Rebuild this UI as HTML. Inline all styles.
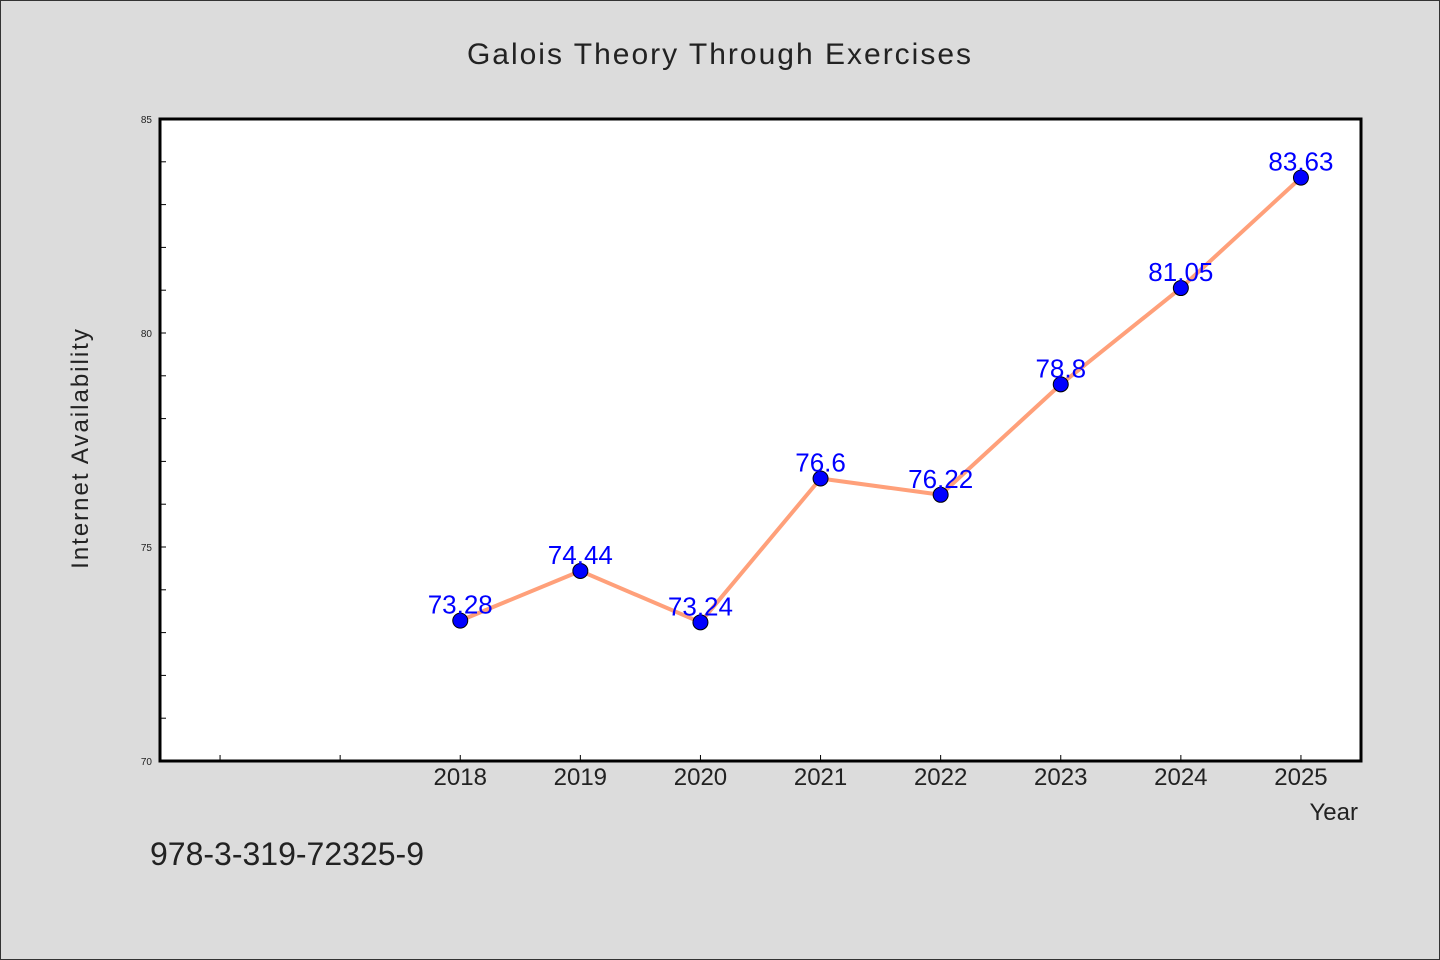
<!DOCTYPE html>
<html><head><meta charset="utf-8"><style>
html,body{margin:0;padding:0;background:#dcdcdc;}
svg{display:block;font-family:"WenQuanYi Zen Hei","Liberation Sans",sans-serif;}
</style></head><body>
<svg id="chart" width="1440" height="960">
<rect x="0.5" y="0.5" width="1439" height="959" fill="#dcdcdc" stroke="#333"/>
<text x="720" y="64" text-anchor="middle" font-size="30" fill="#222" letter-spacing="2">Galois Theory Through Exercises</text>
<rect x="160" y="119" width="1201" height="642" fill="#fff"/>
<g id="axes"></g>
<g id="marks"></g>
<rect x="160" y="119" width="1201" height="642" fill="none" stroke="#000" stroke-width="3"/>
<text x="88" y="448" text-anchor="middle" font-size="24" fill="#222" letter-spacing="2" transform="rotate(-90 88 448)">Internet Availability</text>
<text x="1358" y="820" text-anchor="end" font-size="24" fill="#222">Year</text>
<text x="150" y="865" font-size="32" fill="#222">978-3-319-72325-9</text>
</svg>
<script>
const years = [2018, 2019, 2020, 2021, 2022, 2023, 2024, 2025];
const values = [73.28, 74.44, 73.24, 76.6, 76.22, 78.8, 81.05, 83.63];
const valueLabels = ["73.28", "74.44", "73.24", "76.6", "76.22", "78.8", "81.05", "83.63"];
const yTicks = [70, 75, 80, 85];
const xMinorTicks = [2016, 2017];
const NS = "http://www.w3.org/2000/svg";
const X0 = 160, X1 = 1361, Y0 = 761, Y1 = 119;
const xDom = [2015.5, 2025.5], yDom = [70, 85];
const xs = v => X0 + (v - xDom[0]) / (xDom[1] - xDom[0]) * (X1 - X0);
const ys = v => Y0 - (v - yDom[0]) / (yDom[1] - yDom[0]) * (Y0 - Y1);
function mk(tag, attrs, parent){const e=document.createElementNS(NS,tag);for(const k in attrs)e.setAttribute(k,attrs[k]);parent.appendChild(e);return e;}
const axes = document.getElementById('axes'), marks = document.getElementById('marks');
for (let v = yDom[0]; v <= yDom[1]; v++) {
  const t = mk('line', {x1:X0, x2:X0+6, y1:ys(v), y2:ys(v), stroke:'#000', 'stroke-width':1}, axes);
  
  
}
yTicks.forEach(v => {
  const t = mk('text', {x:152, y:ys(v)+4, 'text-anchor':'end', 'font-size':10, fill:'#222'}, axes);
  t.textContent = v;
  
  
});
xMinorTicks.concat(years).forEach(v => {
  const t = mk('line', {x1:xs(v), x2:xs(v), y1:Y0, y2:Y0-6, stroke:'#000', 'stroke-width':1}, axes);
  
  
});
years.forEach(v => {
  const t = mk('text', {x:xs(v), y:785, 'text-anchor':'middle', 'font-size':24, fill:'#222'}, axes);
  t.textContent = v;
  
  
});
const pts = years.map((y,i) => xs(y)+','+ys(values[i])).join(' ');
const line = mk('polyline', {points:pts, fill:'none', stroke:'#ffa07a', 'stroke-width':4, 'stroke-linejoin':'round'}, marks);


years.forEach((y,i) => {
  const c = mk('circle', {cx:xs(y), cy:ys(values[i]), r:7.5, fill:'#0000ff', stroke:'#000', 'stroke-width':1}, marks);
  
  
});
years.forEach((y,i) => {
  const t = mk('text', {x:xs(y), y:ys(values[i])-7, 'text-anchor':'middle', 'font-size':26, fill:'#0000ff'}, marks);
  t.textContent = valueLabels[i];
  
  
});
</script>
</body></html>
